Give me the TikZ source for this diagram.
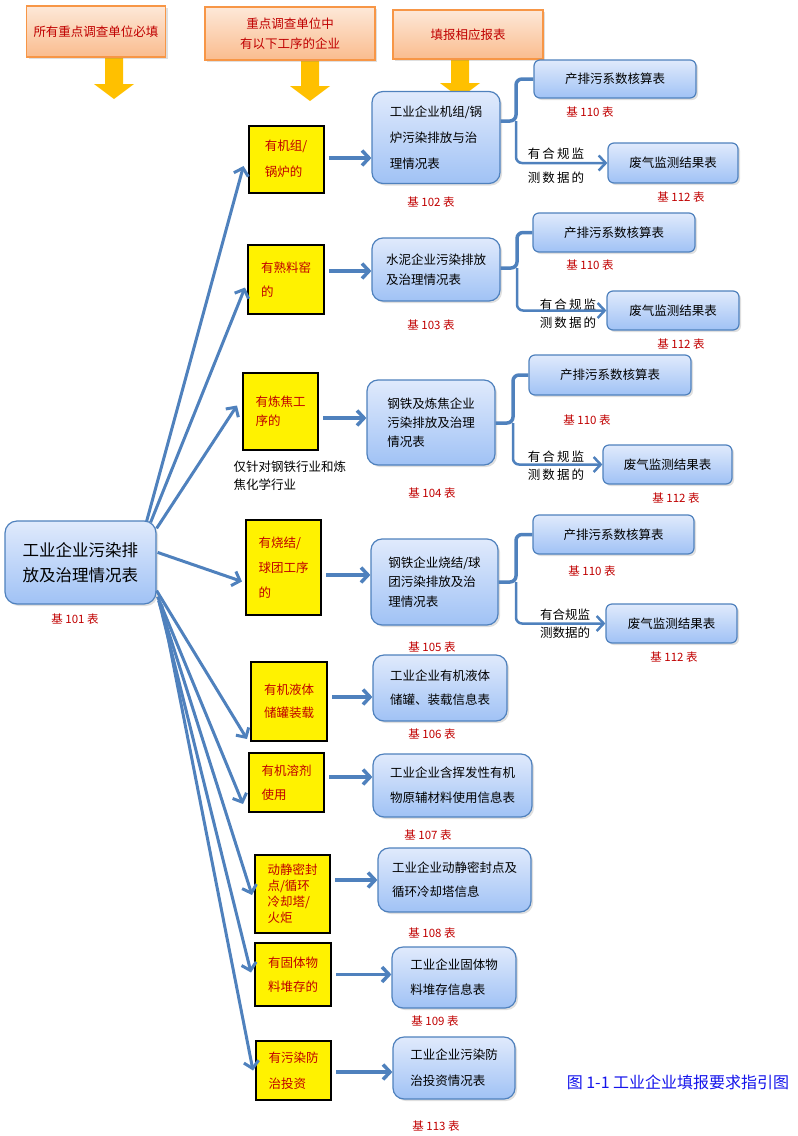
\documentclass[tikz,border=0pt]{standalone}
\usepackage{fontspec}
\setmainfont{Noto Sans CJK SC}
\usetikzlibrary{arrows.meta,shadows,calc,positioning}
\definecolor{linkblue}{RGB}{79,129,189}
\definecolor{boxtop}{RGB}{224,234,252}
\definecolor{boxbot}{RGB}{160,194,245}
\definecolor{hdtop}{RGB}{253,232,216}
\definecolor{hdbot}{RGB}{250,188,142}
\definecolor{hdline}{RGB}{247,150,70}
\definecolor{arrowgold}{RGB}{255,192,0}
\definecolor{darkred}{RGB}{192,0,0}
\definecolor{capblue}{RGB}{20,20,235}
\newcommand{\Fs}[2]{\fontsize{#1}{#2}\selectfont}
\newcommand{\Down}[3]{\fill[arrowgold] ({#1-9},#2) -- ({#1+9},#2) -- ({#1+9},{#3-15}) -- ({#1+20},{#3-15}) -- (#1,#3) -- ({#1-20},{#3-15}) -- ({#1-9},{#3-15}) -- cycle;}

\begin{document}
\begin{tikzpicture}[x=1pt, y=-1pt, >={Straight Barb[length=7pt,width=15pt]},
    headbox/.style={draw=hdline, line width=1.2pt, top color=hdtop, bottom color=hdbot, text=darkred, align=center,
        drop shadow={opacity=0.25, shadow xshift=2pt, shadow yshift=-2pt}, font=\Fs{12.5}{20}},
    tabbox/.style={draw=linkblue, line width=1.2pt, top color=boxtop, bottom color=boxbot, rounded corners=11pt, align=left,
        drop shadow={opacity=0.25, shadow xshift=2pt, shadow yshift=-2pt}, font=\Fs{12.5}{24}},
    subbox/.style={tabbox, rounded corners=6pt, align=center},
    condbox/.style={draw=black, line width=2pt, fill=yellow, text=darkred, align=left, font=\Fs{12.5}{24}},
    codelabel/.style={text=darkred, font=\Fs{11.5}{13}},
    wheretext/.style={align=center, font=\Fs{12.5}{24}},
    link/.style={draw=linkblue, line width=3pt, ->},
    feed/.style={draw=linkblue, line width=3.5pt, ->},
    fork/.style={draw=linkblue, line width=3.5pt, rounded corners=6pt}]

            \useasboundingbox (0,0) rectangle (798,1136);

            \Down{114}{50}{99}
            \Down{310}{52}{101}
            \Down{460}{52}{98}
            \draw (96,31.5) node[headbox, minimum width=139, minimum height=51] (h1) {所有重点调查单位必填};
            \draw (290,33.5) node[headbox, minimum width=170, minimum height=53] (h2) {重点调查单位中\\有以下工序的企业};
            \draw (468,34.5) node[headbox, minimum width=150, minimum height=49] (h3) {填报相应报表};

            \draw (80.5,562.5) node[tabbox, rounded corners=12pt, minimum width=151, minimum height=83, font=\Fs{16.5}{25}] (b101) {工业企业污染排\\放及治理情况表};
            \draw (75,619) node[codelabel] (l101) {基 101 表};

            \draw (286,159) node[condbox, minimum width=75, minimum height=67, font=\Fs{12.5}{26}] (y1) {有机组/\\锅炉的};
            \draw (436,137.5) node[tabbox, minimum width=128, minimum height=92, font=\Fs{12.5}{26}] (b102) {工业企业机组/锅\\炉污染排放与治\\理情况表};
            \draw (615,79) node[subbox, minimum width=162, minimum height=38] (t110a) {产排污系数核算表};
            \draw (673,163) node[subbox, minimum width=130, minimum height=40] (t112a) {废气监测结果表};
            \draw (431,202) node[codelabel] (l102) {基 102 表};
            \draw (590,112) node[codelabel] (l110a) {基 110 表};
            \draw (681,197) node[codelabel] (l112a) {基 112 表};
            \draw (556,166) node[wheretext] (q1) {有\,合\,规\,监\\测\,数\,据\,的};

            \draw (286,279.5) node[condbox, minimum width=76, minimum height=69] (y2) {有熟料窑\\的};
            \draw (436,269.5) node[tabbox, minimum width=128, minimum height=63, font=\Fs{12.5}{20}] (b103) {水泥企业污染排放\\及治理情况表};
            \draw (614,232.5) node[subbox, minimum width=162, minimum height=39] (t110b) {产排污系数核算表};
            \draw (673,310.5) node[subbox, minimum width=132, minimum height=39] (t112b) {废气监测结果表};
            \draw (431,325) node[codelabel] (l103) {基 103 表};
            \draw (590,265) node[codelabel] (l110b) {基 110 表};
            \draw (681,344) node[codelabel] (l112b) {基 112 表};
            \draw (568,314) node[wheretext, font=\Fs{12.5}{18}] (q2) {有\,合\,规\,监\\测\,数\,据\,的};

            \draw (280.5,411.5) node[condbox, minimum width=75, minimum height=77, font=\Fs{12.5}{19}] (y3) {有炼焦工\\序的};
            \draw (230,476) node[anchor=west, align=left, font=\Fs{12.5}{18}] (n3) {仅针对钢铁行业和炼\\焦化学行业};
            \draw (431,422.5) node[tabbox, minimum width=128, minimum height=85, font=\Fs{12.5}{19}] (b104) {钢铁及炼焦企业\\污染排放及治理\\情况表};
            \draw (610,375) node[subbox, minimum width=162, minimum height=40] (t110c) {产排污系数核算表};
            \draw (667.5,464.5) node[subbox, minimum width=129, minimum height=39] (t112c) {废气监测结果表};
            \draw (432,493) node[codelabel] (l104) {基 104 表};
            \draw (587,420) node[codelabel] (l110c) {基 110 表};
            \draw (676,498) node[codelabel] (l112c) {基 112 表};
            \draw (556,466) node[wheretext, font=\Fs{12.5}{18}] (q3) {有\,合\,规\,监\\测\,数\,据\,的};

            \draw (283.5,567.5) node[condbox, minimum width=75, minimum height=95, font=\Fs{12.5}{25}] (y4) {有烧结/\\球团工序\\的};
            \draw (434.5,582) node[tabbox, minimum width=127, minimum height=86, font=\Fs{12.5}{19.5}] (b105) {钢铁企业烧结/球\\团污染排放及治\\理情况表};
            \draw (613.5,534.5) node[subbox, minimum width=161, minimum height=39] (t110d) {产排污系数核算表};
            \draw (671.5,623.5) node[subbox, minimum width=131, minimum height=39] (t112d) {废气监测结果表};
            \draw (432,647) node[codelabel] (l105) {基 105 表};
            \draw (592,571) node[codelabel] (l110d) {基 110 表};
            \draw (674,657) node[codelabel] (l112d) {基 112 表};
            \draw (565,624) node[wheretext, font=\Fs{12.5}{18}] (q4) {有合规监\\测数据的};

            \draw (289,701.5) node[condbox, minimum width=76, minimum height=79, font=\Fs{12.5}{23}] (y5) {有机液体\\储罐装载};
            \draw (440,688) node[tabbox, minimum width=134, minimum height=66] (b106) {工业企业有机液体\\储罐、装载信息表};
            \draw (432,734) node[codelabel] (l106) {基 106 表};

            \draw (286.5,782.5) node[condbox, minimum width=75, minimum height=59] (y6) {有机溶剂\\使用};
            \draw (452.5,785.5) node[tabbox, minimum width=159, minimum height=63, font=\Fs{12.5}{25}] (b107) {工业企业含挥发性有机\\物原辅材料使用信息表};
            \draw (428,835) node[codelabel] (l107) {基 107 表};

            \draw (292.5,894) node[condbox, minimum width=75, minimum height=78, font=\Fs{12.5}{16}] (y7) {动静密封\\点/循环\\冷却塔/\\火炬};
            \draw (454.5,880) node[tabbox, minimum width=153, minimum height=64] (b108) {工业企业动静密封点及\\循环冷却塔信息};
            \draw (432,933) node[codelabel] (l108) {基 108 表};

            \draw (293,974.5) node[condbox, minimum width=76, minimum height=63] (y8) {有固体物\\料堆存的};
            \draw (454,977.5) node[tabbox, minimum width=124, minimum height=61, font=\Fs{12.5}{25}] (b109) {工业企业固体物\\料堆存信息表};
            \draw (435,1021) node[codelabel] (l109) {基 109 表};

            \draw (293.5,1070.5) node[condbox, minimum width=75, minimum height=59, font=\Fs{12.5}{26}] (y9) {有污染防\\治投资};
            \draw (454,1068) node[tabbox, minimum width=122, minimum height=62, font=\Fs{12.5}{26}] (b113) {工业企业污染防\\治投资情况表};
            \draw (436,1126) node[codelabel] (l113) {基 113 表};

            \draw (678,1082) node[text=capblue, font=\Fs{16}{18}] (cap) {图 1-1 工业企业填报要求指引图};

            \draw[link] ($(b101.north east)+(-10,1)$) -- ($(y1.west)+(-4,7)$);
            \draw[link] ($(b101.north east)+(-6,2)$) -- ($(y2.west)+(-2,8)$);
            \draw[link] ($(b101.north east)+(0,8)$) -- ($(y3.west)+(-5,-6)$);
            \draw[link] ($(b101.north east)+(1,32)$) -- ($(y4.west)+(-3,14)$);
            \draw[link] ($(b101.south east)+(0,-14)$) -- ($(y5.south west)+(-3,-3)$);
            \draw[link] ($(b101.south east)+(1,-8)$) -- ($(y6.south west)+(-5,-9)$);
            \draw[link] ($(b101.south east)+(2,-4)$) -- ($(y7.west)+(-2,1)$);
            \draw[link] ($(b101.south east)+(3,-1)$) -- ($(y8.west)+(-3,-2)$);
            \draw[link] ($(b101.south east)+(5,0)$) -- ($(y9.west)+(-2,0)$);

            \coordinate (s1) at ($(y1.east)+(4,-1)$);
            \coordinate (s2) at ($(y2.east)+(4,-8.5)$);
            \coordinate (s3) at ($(y3.east)+(4,6.5)$);
            \coordinate (s4) at ($(y4.east)+(4,7.5)$);
            \coordinate (s5) at ($(y5.east)+(4,-4.5)$);
            \coordinate (s6) at ($(y6.east)+(4,-5.5)$);
            \coordinate (s7) at ($(y7.east)+(4,-14)$);
            \coordinate (s8) at ($(y8.east)+(4,0)$);
            \coordinate (s9) at ($(y9.east)+(4,1.5)$);
            \draw[feed] (s1) -- (s1 -| b102.west);
            \draw[feed] (s2) -- (s2 -| b103.west);
            \draw[feed] (s3) -- (s3 -| b104.west);
            \draw[feed] (s4) -- (s4 -| b105.west);
            \draw[feed] (s5) -- (s5 -| b106.west);
            \draw[feed] (s6) -- (s6 -| b107.west);
            \draw[feed] (s7) -- (s7 -| b108.west);
            \draw[feed] (s8) -- (s8 -| b109.west);
            \draw[feed] (s9) -- (s9 -| b113.west);

            \coordinate (j1) at (516,121);
            \coordinate (j2) at (517,268);
            \coordinate (j3) at (513,423);
            \coordinate (j4) at (516,582);
            \draw[fork] (b102.east |- j1) -- (j1) |- (t110a.west);
            \draw[fork, line width=2.5pt, ->] (j1) |- (t112a.west);
            \draw[fork] (b103.east |- j2) -- (j2) |- (t110b.west);
            \draw[fork, line width=2.5pt, ->] (j2) |- (t112b.west);
            \draw[fork] (b104.east |- j3) -- (j3) |- (t110c.west);
            \draw[fork, line width=2.5pt, ->] (j3) |- (t112c.west);
            \draw[fork] (b105.east |- j4) -- (j4) |- (t110d.west);
            \draw[fork, line width=2.5pt, ->] (j4) |- (t112d.west);

        \end{tikzpicture}
\end{document}
